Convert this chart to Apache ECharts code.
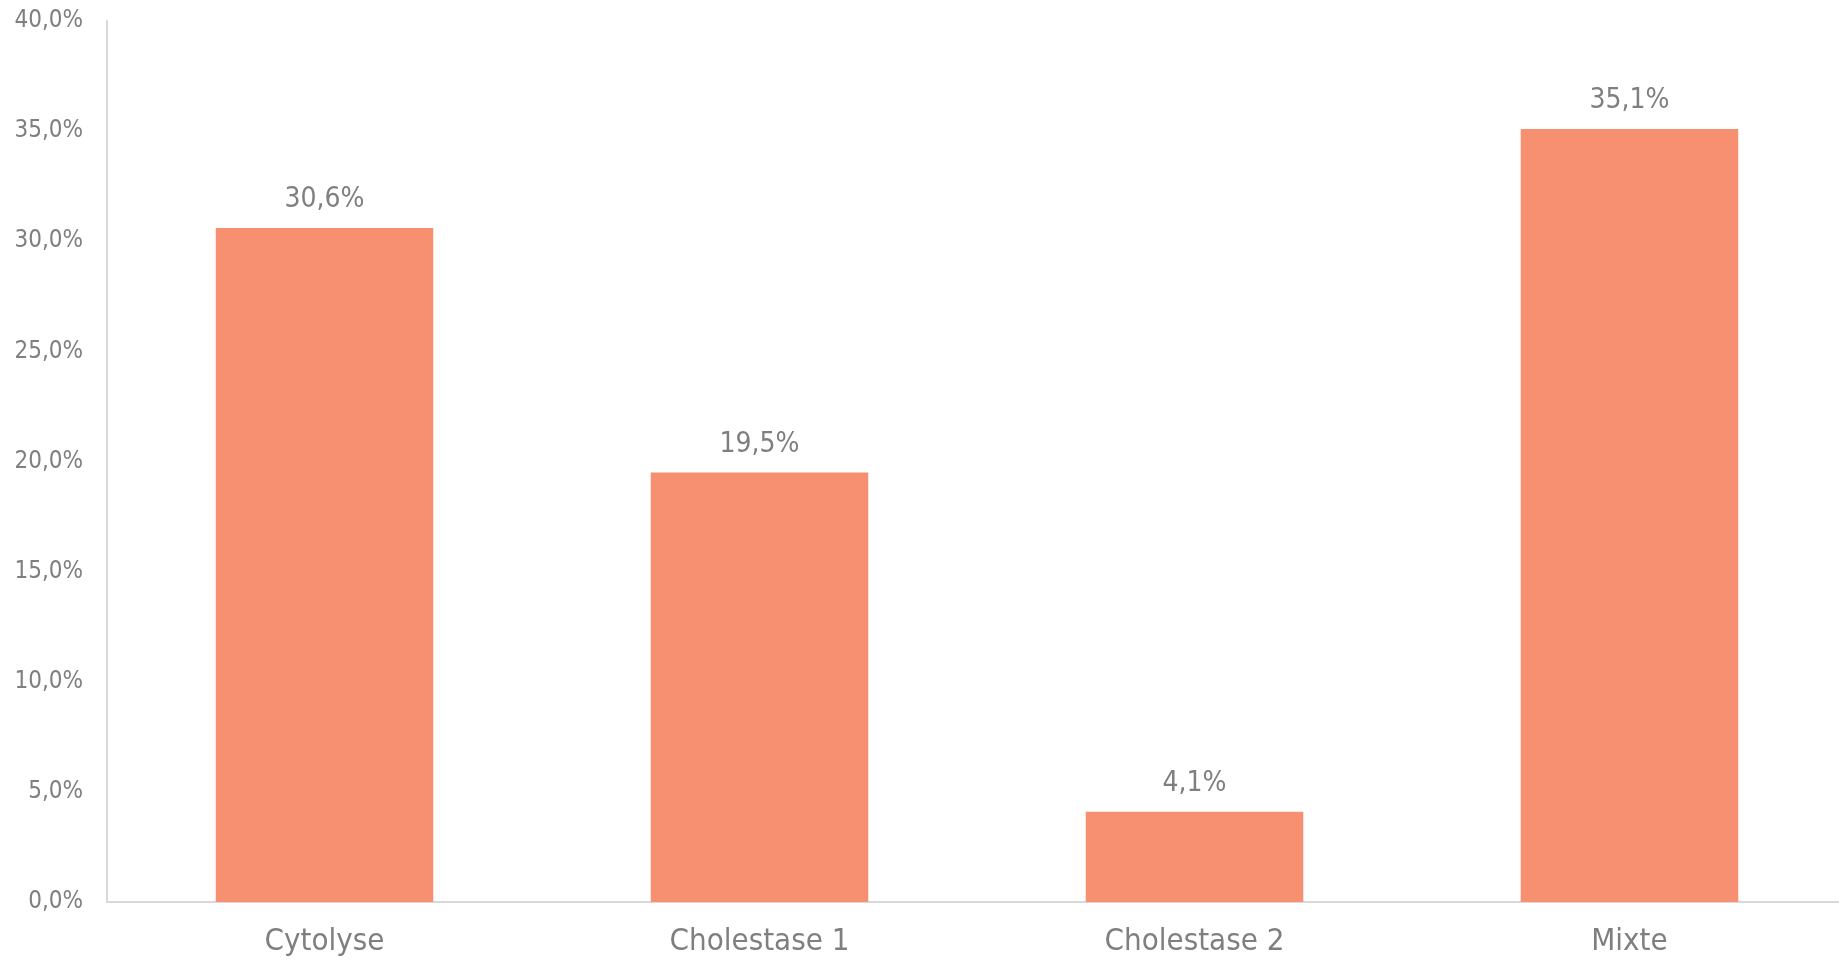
<!DOCTYPE html>
<html>
<head>
<meta charset="utf-8">
<script src="https://cdn.jsdelivr.net/npm/echarts@6/dist/echarts.min.js"></script>
<style>
html,body{margin:0;padding:0;background:#fff;overflow:hidden;}
#chart{width:1839px;height:963px;}
</style>
</head>
<body>
<div id="chart"></div>
<script>
const categories = ["Cytolyse", "Cholestase 1", "Cholestase 2", "Mixte"];
const values = [30.6, 19.5, 4.1, 35.1];
const yTicks = [0, 5, 10, 15, 20, 25, 30, 35, 40];

const fmt = v => v.toFixed(1).replace('.', ',') + '%';
const FONT = '"Liberation Sans Narrow", "DejaVu Sans Condensed", "Liberation Sans", sans-serif';
const GRAY = '#7f7f7f';

const chart = echarts.init(document.getElementById('chart'), null, {renderer: 'canvas'});
chart.setOption({
  animation: false,
  backgroundColor: '#ffffff',
  grid: {left: 107, width: 1740, top: 21, bottom: 61, containLabel: false, outerBoundsMode: 'none'},
  xAxis: {
    type: 'category',
    data: categories,
    axisLine: {show: true, lineStyle: {color: '#d9d9d9', width: 2}},
    axisTick: {show: false},
    axisLabel: {color: GRAY, fontSize: 31, fontFamily: FONT, margin: 24}
  },
  yAxis: {
    type: 'value',
    min: yTicks[0],
    max: yTicks[yTicks.length - 1],
    interval: 5,
    axisLine: {show: true, lineStyle: {color: '#d9d9d9', width: 2}},
    axisTick: {show: false},
    splitLine: {show: false},
    axisLabel: {color: GRAY, fontSize: 24, fontFamily: FONT, margin: 24, formatter: v => fmt(v)}
  },
  series: [{
    type: 'bar',
    data: values,
    barCategoryGap: '50%',
    itemStyle: {color: '#f79071'},
    label: {
      show: true,
      position: 'top',
      distance: 14,
      color: GRAY,
      fontSize: 28,
      fontFamily: FONT,
      formatter: p => fmt(p.value)
    }
  }]
});
</script>
</body>
</html>
